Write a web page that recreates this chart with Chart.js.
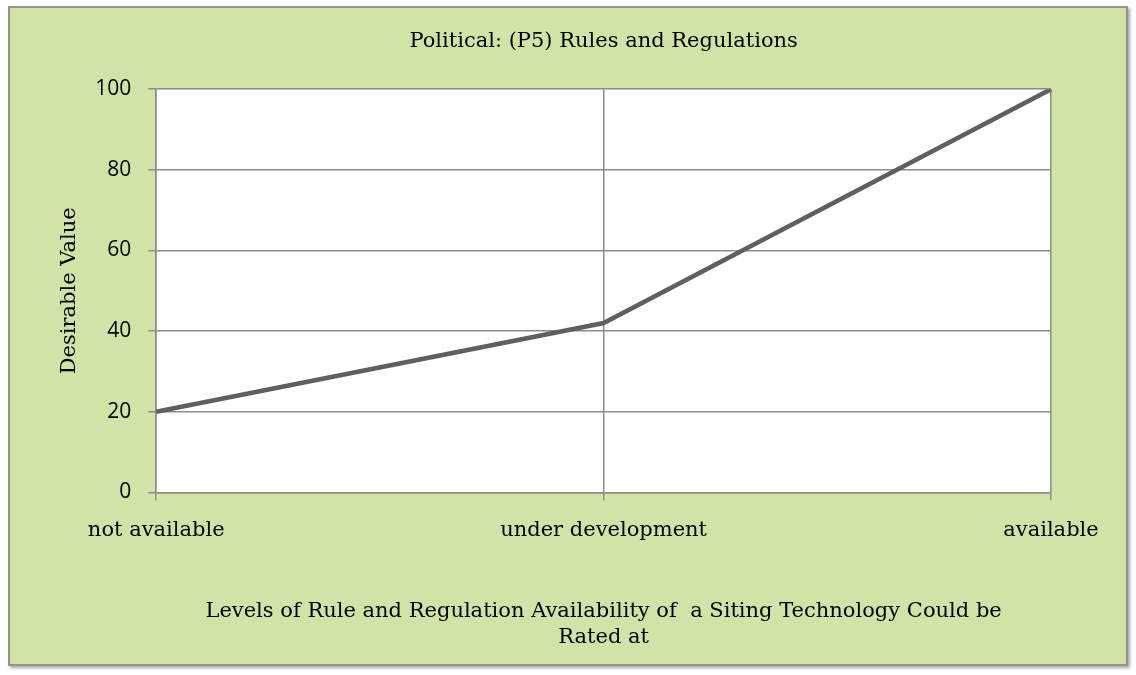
<!DOCTYPE html>
<html lang="en">
<head>
  <meta charset="UTF-8">
  <title>Political: (P5) Rules and Regulations</title>
  <script src="https://cdn.jsdelivr.net/npm/chart.js"></script>
  <style>
    body {
      margin: 0;
      padding: 0;
      background-color: #fff;
    }
    #marco {
      position: absolute;
      left: 8px;
      top: 6px;
      width: 1116px;
      height: 656px;
      background-color: #d2e3a7;
      border: 2px solid #8f9a86;
      box-shadow: 2px 2px 3px rgba(0, 0, 0, 0.35);
    }
  </style>
</head>
<body>

  <div id="marco">
    <canvas id="grafico"></canvas>
  </div>

  <script>
    var niveles = ['not available', 'under development', 'available'];
    var valores = [20, 42, 100];
    var ticksY = [0, 20, 40, 60, 80, 100];

    // fondo blanco solo en el area del grafico
    var fondoArea = {
      id: 'fondoArea',
      beforeDraw: function (chart) {
        var a = chart.chartArea;
        var ctx = chart.ctx;
        ctx.save();
        ctx.fillStyle = '#fff';
        ctx.fillRect(a.left, a.top, a.right - a.left, a.bottom - a.top);
        ctx.restore();
      }
    };

    var serif = "'DejaVu Serif', 'Liberation Serif', serif";
    var sans = "'Open Sans', 'Liberation Sans', sans-serif";

    var ctx = document.getElementById('grafico').getContext('2d');
    var grafico = new Chart(ctx, {
      type: 'line',
      data: {
        labels: niveles,
        datasets: [{
          label: 'Desirable Value',
          data: valores,
          borderColor: '#5f5f5f',
          borderWidth: 4.5,
          pointRadius: 0,
          tension: 0,
          fill: false
        }]
      },
      options: {
        responsive: true,
        maintainAspectRatio: false,
        animation: false,
        layout: {
          padding: { left: 47, right: 75, top: 0, bottom: 13 }
        },
        plugins: {
          legend: { display: false },
          tooltip: { enabled: false },
          title: {
            display: true,
            fullSize: false,
            text: 'Political: (P5) Rules and Regulations',
            color: '#000',
            font: { family: serif, size: 21, weight: 'normal' },
            padding: { top: 21, bottom: 35 }
          }
        },
        scales: {
          x: {
            offset: false,
            grid: {
              color: '#8c8c8c',
              lineWidth: 1.5,
              tickLength: 8,
              drawOnChartArea: true
            },
            border: { color: '#8c8c8c', width: 1.5 },
            ticks: {
              color: '#000',
              padding: 18,
              maxRotation: 0,
              font: { family: serif, size: 21 }
            },
            title: {
              display: true,
              text: ['Levels of Rule and Regulation Availability of  a Siting Technology Could be', 'Rated at'],
              color: '#000',
              font: { family: serif, size: 21, weight: 'normal', lineHeight: 1.25 },
              padding: { top: 37, bottom: 0 }
            }
          },
          y: {
            min: 0,
            max: 100,
            afterBuildTicks: function (eje) {
              eje.ticks = ticksY.map(function (v) { return { value: v }; });
            },
            grid: {
              color: '#8c8c8c',
              lineWidth: 1.5,
              tickLength: 8
            },
            border: { color: '#8c8c8c', width: 1.5 },
            ticks: {
              color: '#000',
              padding: 17,
              font: { family: sans, size: 21 }
            },
            title: {
              display: true,
              text: 'Desirable Value',
              color: '#000',
              font: { family: serif, size: 21, weight: 'normal' },
              padding: { top: 0, bottom: -4 }
            }
          }
        }
      },
      plugins: [fondoArea]
    });
  </script>

</body>
</html>
